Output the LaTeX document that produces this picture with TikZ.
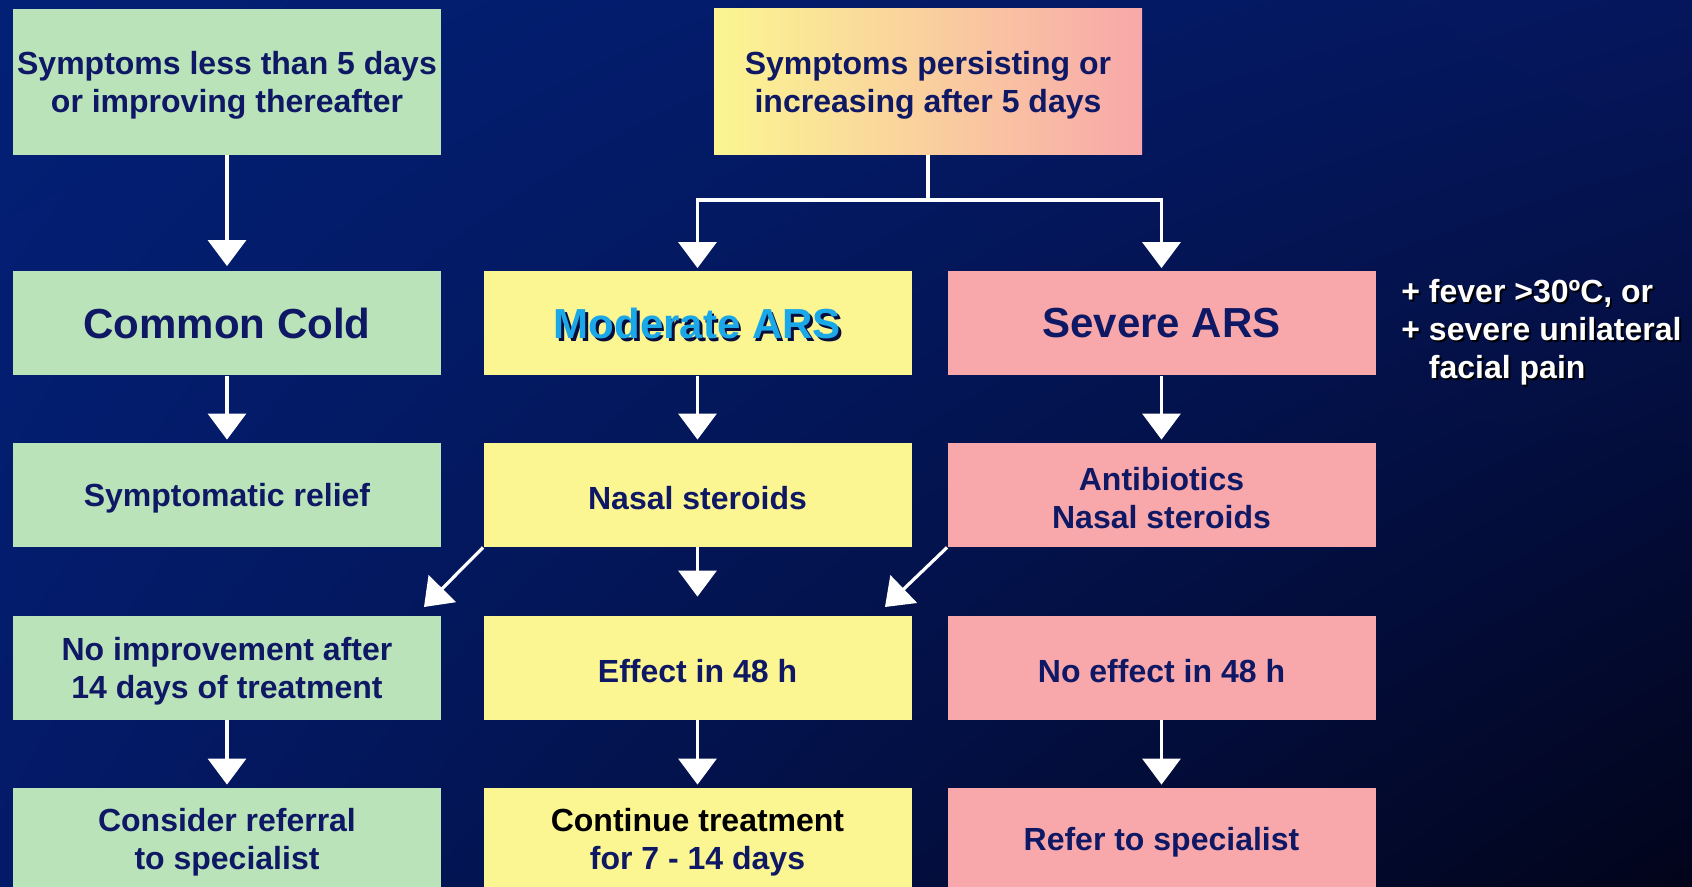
\documentclass[tikz,border=0pt]{standalone}
\usepackage{fontspec}
\setmainfont{Liberation Sans}
\usetikzlibrary{arrows.meta,shadings}
\definecolor{bgUL}{RGB}{2,32,118}
\definecolor{bgUR}{RGB}{5,22,92}
\definecolor{bgLL}{RGB}{4,26,104}
\definecolor{bgLR}{RGB}{2,4,26}
\definecolor{boxgreen}{RGB}{186,227,186}
\definecolor{boxyellow}{RGB}{251,246,145}
\definecolor{boxpink}{RGB}{248,168,170}
\definecolor{navytext}{RGB}{14,24,100}
\definecolor{cyantext}{RGB}{27,168,232}
\begin{document}
\begin{tikzpicture}[x=0.5pt,y=-0.5pt,
  box/.style={rectangle, inner sep=0pt, minimum width=214pt, minimum height=52pt},
  boxtext/.style={inner sep=0pt, align=center, text=navytext, yshift=-1.5pt,
    font=\bfseries\fontsize{16pt}{19pt}\selectfont},
  bigtext/.style={inner sep=0pt, align=center, text=navytext,
    font=\bfseries\fontsize{21pt}{25pt}\selectfont},
  notetext/.style={inner sep=0pt, align=left, font=\bfseries\fontsize{16pt}{19pt}\selectfont},
  conn/.style={draw=white, line width=1.6pt},
  arr/.style={conn, -{Triangle[width=19pt,length=13pt]}, shorten >=1.5pt}
]
\useasboundingbox (0,0) rectangle (1692,887);
\clip (0,0) rectangle (1692,887);
\shade[upper left=bgUL, upper right=bgUR, lower left=bgLL, lower right=bgLR] (0,0) rectangle (1692,887);

% row 1
\node[box, fill=boxgreen, minimum height=73pt,
  label={[boxtext]center:{Symptoms less than 5 days\\or improving thereafter}}] (less) at (227,82) {};
\node[box, left color=boxyellow, right color=boxpink, minimum height=73pt,
  label={[boxtext]center:{Symptoms persisting or\\increasing after 5 days}}] (persist) at (928,82) {};

% row 2
\node[box, fill=boxgreen, label={[bigtext]center:{Common Cold}}] (cold) at (227,323.5) {};
\node[box, fill=boxyellow] (mod) at (697.5,323.5) {};
\node[bigtext, text=navytext!60!black] (modshadow) at (700,326) {Moderate ARS};
\node[bigtext, text=cyantext] (modtext) at (697.5,323.5) {Moderate ARS};
\node[box, fill=boxpink, label={[bigtext]center:{Severe ARS}}] (sev) at (1161.5,323.5) {};

\node[notetext, text=black, anchor=west] (noteshadow) at (1403,334.5) {+ fever >30ºC, or\\+ severe unilateral\\\phantom{+ }facial pain};
\node[notetext, text=white, anchor=west] (note) at (1401,332.5) {+ fever >30ºC, or\\+ severe unilateral\\\phantom{+ }facial pain};

% row 3
\node[box, fill=boxgreen, label={[boxtext]center:{Symptomatic relief}}] (relief) at (227,495) {};
\node[box, fill=boxyellow, label={[boxtext]center:{Nasal steroids}}] (nasal) at (697.5,495) {};
\node[box, fill=boxpink, label={[boxtext]center:{Antibiotics\\Nasal steroids}}] (anti) at (1161.5,495) {};

% row 4
\node[box, fill=boxgreen, label={[boxtext]center:{No improvement after\\14 days of treatment}}] (noimp) at (227,668) {};
\node[box, fill=boxyellow, label={[boxtext]center:{Effect in 48 h}}] (effect) at (697.5,668) {};
\node[box, fill=boxpink, label={[boxtext]center:{No effect in 48 h}}] (noeff) at (1161.5,668) {};

% row 5
\node[box, fill=boxgreen, minimum height=51pt,
  label={[boxtext]center:{Consider referral\\to specialist}}] (consider) at (227,839) {};
\node[box, fill=boxyellow, minimum height=51pt,
  label={[boxtext]center:{\textcolor{black}{Continue treatment}\\for 7 - 14 days}}] (cont) at (697.5,839) {};
\node[box, fill=boxpink, minimum height=51pt,
  label={[boxtext]center:{Refer to specialist}}] (refer) at (1161.5,839) {};

% connectors
\draw[arr, shorten >=2.5pt] (less) -- (cold);
\coordinate (split) at (928,200);
\draw[conn] (persist.south) -- (split);
\draw[arr] (split) -| (mod.north);
\draw[arr] (split) -| (sev.north);

\draw[arr] (cold) -- (relief);
\draw[arr] (mod) -- (nasal);
\draw[arr] (sev) -- (anti);

\coordinate (dl) at (424,607);
\coordinate (dr) at (885,607);
\draw[arr, shorten >=0pt] (nasal.south west) -- (dl);
\draw[arr, shorten >=9.5pt] (nasal) -- (effect);
\draw[arr, shorten >=0pt] (anti.south west) -- (dr);

\draw[arr] (noimp) -- (consider);
\draw[arr] (effect) -- (cont);
\draw[arr] (noeff) -- (refer);
\end{tikzpicture}
\end{document}
